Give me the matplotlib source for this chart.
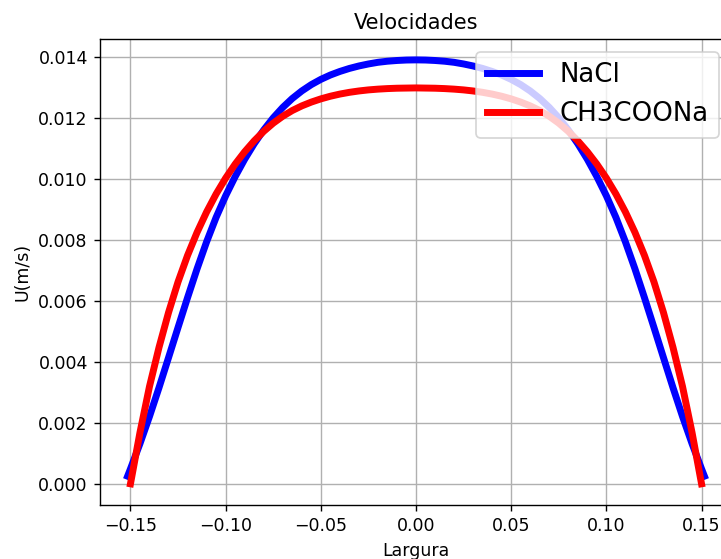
import matplotlib
matplotlib.use('Agg')
import matplotlib.pyplot as plt

# valores (perfil simetrico), passo de 0.005 em x
x_nacl = [-0.1515, -0.150, -0.145, -0.140, -0.135, -0.130, -0.125, -0.120, -0.115, -0.110, -0.105,
          -0.100, -0.095, -0.090, -0.085, -0.080, -0.075, -0.070, -0.065, -0.060, -0.055,
          -0.050, -0.045, -0.040, -0.035, -0.030, -0.025, -0.020, -0.015, -0.010, -0.005,
          0.0,
          0.005, 0.010, 0.015, 0.020, 0.025, 0.030, 0.035, 0.040, 0.045, 0.050,
          0.055, 0.060, 0.065, 0.070, 0.075, 0.080, 0.085, 0.090, 0.095, 0.100,
          0.105, 0.110, 0.115, 0.120, 0.125, 0.130, 0.135, 0.140, 0.145, 0.150, 0.1515]
u_nacl = [0.00025, 0.00049, 0.00132, 0.00221, 0.003156, 0.00414, 0.005131, 0.00611, 0.007056, 0.00794, 0.008743,
          0.00945, 0.01008, 0.01065, 0.011159, 0.01161, 0.012008, 0.01235, 0.012643, 0.01289, 0.013098,
          0.01327, 0.013413, 0.01353, 0.013629, 0.01371, 0.013776, 0.01383, 0.013866, 0.01389, 0.013905,
          0.01391,
          0.013905, 0.01389, 0.013866, 0.01383, 0.013776, 0.01371, 0.013629, 0.01353, 0.013413, 0.01327,
          0.013098, 0.01289, 0.012643, 0.01235, 0.012008, 0.01161, 0.011159, 0.01065, 0.01008, 0.00945,
          0.008743, 0.00794, 0.007056, 0.00611, 0.005131, 0.00414, 0.003156, 0.00221, 0.00132, 0.00049, 0.00025]

x_ch3 = [-0.150, -0.145, -0.140, -0.135, -0.130, -0.125, -0.120, -0.115, -0.110, -0.105,
         -0.100, -0.095, -0.090, -0.085, -0.080, -0.075, -0.070, -0.065, -0.060, -0.055,
         -0.050, -0.045, -0.040, -0.035, -0.030, -0.025, -0.020, -0.015, -0.010, -0.005,
         0.0,
         0.005, 0.010, 0.015, 0.020, 0.025, 0.030, 0.035, 0.040, 0.045, 0.050,
         0.055, 0.060, 0.065, 0.070, 0.075, 0.080, 0.085, 0.090, 0.095, 0.100,
         0.105, 0.110, 0.115, 0.120, 0.125, 0.130, 0.135, 0.140, 0.145, 0.150]
u_ch3 = [0.0, 0.001685, 0.003195, 0.004477, 0.00562, 0.006627, 0.007495, 0.008252, 0.00892, 0.00951,
         0.01003, 0.010489, 0.010895, 0.011253, 0.011565, 0.011834, 0.01206, 0.012248, 0.0124, 0.012525,
         0.01263, 0.012717, 0.012788, 0.012845, 0.01289, 0.012925, 0.01295, 0.012968, 0.01298, 0.012985,
         0.01299,
         0.012985, 0.01298, 0.012968, 0.01295, 0.012925, 0.01289, 0.012845, 0.012788, 0.012717, 0.01263,
         0.012525, 0.0124, 0.012248, 0.01206, 0.011834, 0.011565, 0.011253, 0.010895, 0.010489, 0.01003,
         0.00951, 0.00892, 0.008252, 0.007495, 0.006627, 0.00562, 0.004477, 0.003195, 0.001685, 0.0]

fig = plt.figure(figsize=(721/125, 559/125), dpi=125)
ax = fig.add_axes([100/721, 54/559, 632/721, 466/559])
ax.plot(x_nacl, u_nacl, color='blue', linewidth=4, label='NaCl')
ax.plot(x_ch3, u_ch3, color='red', linewidth=4, label='CH3COONa')
ax.set_xlim(-0.166, 0.166)
ax.set_ylim(-0.000695, 0.014595)
ax.set_title('Velocidades')
ax.set_xlabel('Largura')
ax.set_ylabel('U(m/s)')
ax.grid(True)
ax.legend(loc='upper right', fontsize=15)
fig.savefig('out.png', dpi=125)
